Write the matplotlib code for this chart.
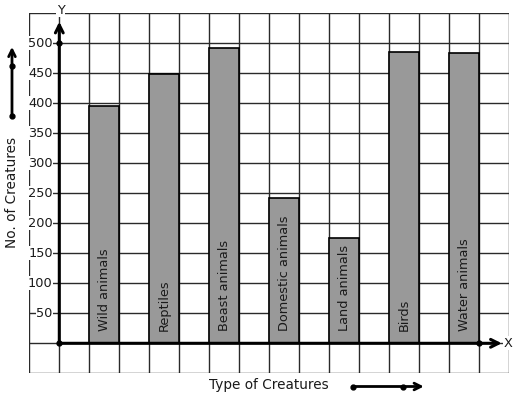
import matplotlib
matplotlib.use("Agg")
import matplotlib.pyplot as plt

categories = ["Wild animals", "Reptiles", "Beast animals", "Domestic animals",
              "Land animals", "Birds", "Water animals"]
values = [396, 449, 493, 243, 175, 486, 484]
ytick_values = [50, 100, 150, 200, 250, 300, 350, 400, 450, 500]
ytick_labels = ["50", "100", "150", "200", "250", "300", "350", "400", "450", "500"]

FS = 9.3
TXT = "#1a1a1a"

fig = plt.figure(figsize=(5.17, 3.99), dpi=100)
ax = fig.add_axes([29.3 / 517, (399 - 373.3) / 399, 480 / 517, 360 / 399])
ax.set_xlim(-1, 15)
ax.set_ylim(-50, 550)
ax.axis("off")

# grid
for gx in range(-1, 16):
    ax.plot([gx, gx], [-50, 550], color="#2a2a2a", lw=1.0, zorder=1)
for gy in range(-50, 551, 50):
    ax.plot([-1, 15], [gy, gy], color="#2a2a2a", lw=1.0, zorder=1)

# bars
xs = [1.5 + 2 * i for i in range(len(categories))]
ax.bar(xs, values, width=1.0, color="#999999", edgecolor="black", lw=1.2, zorder=2)
for x, c in zip(xs, categories):
    ax.text(x, 20, c, rotation=90, ha="center", va="bottom", fontsize=FS,
            color=TXT, zorder=3)

# axes lines with arrows
ax.annotate("", xy=(0, 536), xytext=(0, 0),
            arrowprops=dict(arrowstyle="->", lw=2.2, color="black",
                            mutation_scale=14, shrinkA=0, shrinkB=0),
            zorder=4, annotation_clip=False)
ax.annotate("", xy=(14.75, 0), xytext=(0, 0),
            arrowprops=dict(arrowstyle="->", lw=2.2, color="black",
                            mutation_scale=14, shrinkA=0, shrinkB=0),
            zorder=4, annotation_clip=False)
ax.plot([0, 0, 14], [0, 500, 0], "o", color="black", ms=3.5, zorder=5, clip_on=False)
ax.text(0.05, 555, "Y", ha="center", va="center", fontsize=FS, color=TXT,
        bbox=dict(facecolor="white", edgecolor="none", pad=0.5), zorder=4, clip_on=False)
ax.text(14.8, 0, "X", ha="left", va="center", fontsize=FS, color=TXT,
        bbox=dict(facecolor="white", edgecolor="none", pad=0.5), zorder=4, clip_on=False)

# y tick labels
for v, lab in zip(ytick_values, ytick_labels):
    ax.text(-0.22, v, lab, ha="right", va="center", fontsize=FS, color=TXT,
            bbox=dict(facecolor="white", edgecolor="none", pad=0.3), zorder=3)

# axis titles
ax.text(-1.577, 252, "No. of Creatures", rotation=90, ha="center", va="center",
        fontsize=9.8, color=TXT, clip_on=False)
ax.text(6.99, -70, "Type of Creatures", ha="center", va="center",
        fontsize=9.8, color=TXT, clip_on=False)

# decorative arrows
ax.annotate("", xy=(-1.577, 494), xytext=(-1.577, 379),
            arrowprops=dict(arrowstyle="->", lw=2.0, color="black",
                            mutation_scale=12, shrinkA=0, shrinkB=0),
            annotation_clip=False)
ax.plot([-1.577, -1.577], [379, 462], "o", color="black", ms=3.5, clip_on=False)
ax.annotate("", xy=(12.15, -72), xytext=(9.79, -72),
            arrowprops=dict(arrowstyle="->", lw=2.0, color="black",
                            mutation_scale=12, shrinkA=0, shrinkB=0),
            annotation_clip=False)
ax.plot([9.79, 11.46], [-72, -72], "o", color="black", ms=3.5, clip_on=False)

fig.savefig("out.png", dpi=100, facecolor="white")
